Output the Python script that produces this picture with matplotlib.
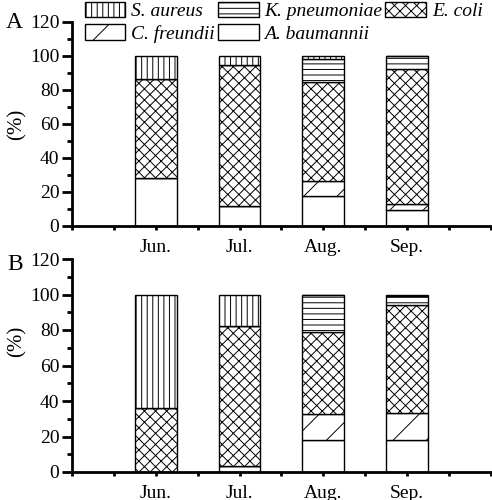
import matplotlib
matplotlib.use("Agg")
import matplotlib.pyplot as plt
import numpy as np

months = ["Jun.", "Jul.", "Aug.", "Sep."]
species = ["A. baumannii", "C. freundii", "E. coli", "K. pneumoniae", "S. aureus"]
hatches = ["", "/", "xxx", "---", "|||"]

# percentages per species (bottom to top), panel A
a_baum_A = [28.5, 12.0, 17.5, 9.7]
c_freu_A = [0.0, 0.0, 9.0, 3.5]
e_coli_A = [58.0, 82.6, 58.0, 79.0]
k_pneu_A = [0.0, 0.0, 14.0, 7.8]
s_aure_A = [13.5, 5.4, 1.5, 0.0]

# panel B
a_baum_B = [0.0, 3.3, 18.0, 18.0]
c_freu_B = [0.0, 0.0, 14.8, 15.5]
e_coli_B = [36.0, 79.0, 46.0, 60.5]
k_pneu_B = [0.0, 0.0, 21.2, 5.0]
s_aure_B = [64.0, 17.7, 0.0, 1.0]

plt.rcParams["font.family"] = "Liberation Serif"
plt.rcParams["hatch.linewidth"] = 0.7


def draw(ax, series):
    x = np.arange(1, len(months) + 1)
    bottom = np.zeros(len(months))
    handles = []
    for name, vals, h in zip(species, series, hatches):
        bars = ax.bar(x, vals, 0.5, bottom=bottom, color="white",
                      edgecolor="black", linewidth=1.0, hatch=h, label=name)
        bottom += np.array(vals)
        handles.append(bars)
    ax.set_xlim(0, 5)
    ax.set_ylim(0, 120)
    ax.set_xticks(x)
    ax.set_xticklabels(months, fontsize=14)
    ax.set_xticks(np.arange(0, 5.01, 0.5), minor=True)
    ax.set_yticks(np.arange(0, 121, 20))
    ax.set_yticks(np.arange(10, 121, 20), minor=True)
    ax.tick_params(axis="y", which="major", length=7, width=2, labelsize=14, pad=2)
    ax.tick_params(axis="y", which="minor", length=3.5, width=2)
    ax.tick_params(axis="x", which="both", length=3, width=2, pad=6)
    for s in ["top", "right"]:
        ax.spines[s].set_visible(False)
    for s in ["left", "bottom"]:
        ax.spines[s].set_linewidth(2)
    ax.set_ylabel("(%)", fontsize=15)
    return handles


fig = plt.figure(figsize=(4.92, 5.0), dpi=100)
axA = fig.add_axes([0.146, 0.548, 0.852, 0.408])
axB = fig.add_axes([0.146, 0.056, 0.852, 0.426])

hA = draw(axA, [a_baum_A, c_freu_A, e_coli_A, k_pneu_A, s_aure_A])
draw(axB, [a_baum_B, c_freu_B, e_coli_B, k_pneu_B, s_aure_B])
axA.yaxis.set_label_coords(-0.107, 0.5)
axB.yaxis.set_label_coords(-0.107, 0.615)

# legend order so that rows read S, K, E / C, A
order = [4, 1, 3, 0, 2]
axA.legend([hA[i] for i in order], [species[i] for i in order], ncol=3,
           loc="upper left", bbox_to_anchor=(0.028, 1.105), frameon=False,
           prop={"style": "italic", "size": 14}, handlelength=2.1,
           handleheight=0.85, handletextpad=0.3, columnspacing=0.15,
           labelspacing=0.22, borderaxespad=0, borderpad=0.05)

fig.text(0.03, 0.955, "A", fontsize=17, va="center", ha="center")
fig.text(0.03, 0.47, "B", fontsize=17, va="center", ha="center")

fig.savefig("out.png", dpi=100)
